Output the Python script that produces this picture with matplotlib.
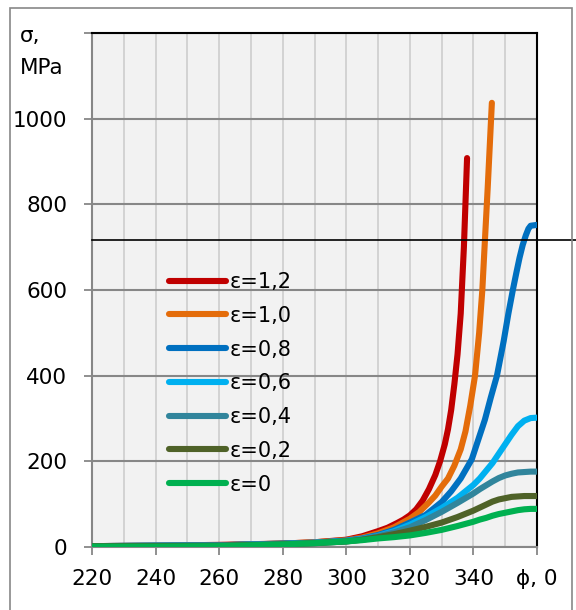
import matplotlib
matplotlib.use("Agg")
import matplotlib.pyplot as plt
from matplotlib.patches import Rectangle

plt.rcParams['font.family'] = ['DejaVu Sans']

# данные
labels = ["ε=1,2", "ε=1,0", "ε=0,8", "ε=0,6", "ε=0,4", "ε=0,2", "ε=0"]
colors = ["#C00000", "#E46C0A", "#0070C0", "#00B0F0", "#31859C", "#4F6228", "#00B050"]

phi_12 = [220, 240, 260, 280, 290, 300, 305, 310, 313, 316, 318, 320, 322, 324, 326, 328, 329.5, 331, 332, 333,
          334, 335, 336, 337, 338]
sig_12 = [2, 3, 5, 8, 11, 17, 25, 37, 45, 56, 64, 74, 88, 108, 135, 168, 200, 240, 275, 320,
          380, 450, 545, 700, 908]

phi_10 = [220, 240, 260, 280, 290, 300, 305, 310, 315, 320, 323, 326, 328, 330, 332, 334, 336, 337.5, 339,
          340.5, 341.8, 342.8, 343.5, 344.5, 345.8]
sig_10 = [2, 3, 4, 8, 11, 16, 22, 32, 46, 66, 82, 104, 120, 141, 160, 190, 228, 270, 330,
          400, 500, 600, 700, 840, 1037]

phi_08 = [220, 240, 260, 280, 290, 300, 305, 310, 315, 320, 325, 330, 333, 336, 339.5, 341.5, 343.6, 345.5,
          347.4, 349.5, 351, 352.4, 353.5, 354.5, 355.5, 356.5, 357.3, 358, 360]
sig_08 = [2, 3, 4, 8, 10, 15, 20, 28, 40, 57, 75, 105, 130, 160, 205, 250, 297, 350,
          400, 480, 545, 600, 640, 675, 705, 728, 743, 750, 752]

phi_06 = [220, 240, 260, 280, 290, 300, 305, 310, 315, 320, 325, 330, 335, 340, 342, 344, 346, 348, 350,
          352, 354, 356, 358, 360]
sig_06 = [2, 3, 4, 7, 10, 14, 19, 26, 37, 52, 70, 91, 115, 145, 160, 178, 196, 218, 240,
          262, 282, 295, 301, 302]

phi_04 = [220, 240, 260, 280, 290, 300, 305, 310, 315, 320, 325, 330, 335, 340, 342, 344, 346, 348, 350,
          352, 354, 356, 358, 360]
sig_04 = [2, 3, 4, 7, 9, 13, 18, 25, 34, 46, 63, 82, 103, 125, 135, 144, 153, 161, 167,
          171, 174, 175, 176, 176]

phi_02 = [220, 240, 260, 280, 290, 300, 305, 310, 315, 320, 325, 330, 335, 340, 342, 344, 346, 348, 350,
          352, 354, 356, 360]
sig_02 = [2, 2, 3, 6, 9, 13, 17, 23, 30, 38, 47, 57, 70, 85, 92, 99, 106, 111, 114,
          117, 118, 119, 119]

phi_00 = [220, 240, 260, 280, 290, 300, 305, 310, 315, 320, 325, 330, 335, 340, 342, 344, 346, 348, 350,
          352, 354, 356, 358, 360]
sig_00 = [1, 1, 2, 6, 9, 13, 16, 20, 23, 27, 33, 40, 49, 59, 64, 68, 73, 77, 80,
          83, 86, 88, 89, 89]

series = [(phi_12, sig_12), (phi_10, sig_10), (phi_08, sig_08), (phi_06, sig_06),
          (phi_04, sig_04), (phi_02, sig_02), (phi_00, sig_00)]

x_ticks = [220, 240, 260, 280, 300, 320, 340, 360]
x_ticklabels = ["220", "240", "260", "280", "300", "320", "340", "ϕ, 0"]
y_ticks = [0, 200, 400, 600, 800, 1000, 1200]
y_ticklabels = ["0", "200", "400", "600", "800", "1000", ""]
h_level = 716

fig = plt.figure(figsize=(5.76, 6.10), dpi=100)
ax = fig.add_axes([92 / 576, 63 / 610, 445 / 576, 514 / 610])
ax.set_facecolor("#F2F2F2")

for (px, sy), lab, c in zip(series, labels, colors):
    ax.plot(px, sy, color=c, lw=4.4, label=lab, solid_capstyle="round", solid_joinstyle="round", zorder=3)

ax.set_xlim(220, 360)
ax.set_ylim(0, 1200)
ax.set_xticks(x_ticks)
ax.set_xticklabels(x_ticklabels)
ax.set_xticks(range(230, 360, 20), minor=True)
ax.set_yticks(y_ticks)
ax.set_yticklabels(y_ticklabels)

ax.grid(which="both", axis="x", color="#D0D0D0", lw=1.3, zorder=0)
ax.grid(which="major", axis="y", color="#878787", lw=1.5, zorder=0)
ax.tick_params(axis="both", which="major", length=6, width=1.3, color="#878787",
               labelsize=15.5, direction="out")
ax.tick_params(axis="y", pad=12)
ax.tick_params(axis="x", pad=10)
ax.tick_params(which="minor", length=0)

for s in ["left", "bottom"]:
    ax.spines[s].set_color("#878787")
    ax.spines[s].set_linewidth(1.5)
for s in ["top", "right"]:
    ax.spines[s].set_color("black")
    ax.spines[s].set_linewidth(1.5)

# горизонтальная линия
ax.axhline(h_level, xmin=0, xmax=1.09, color="black", lw=1.2, clip_on=False, zorder=4)

leg = ax.legend(loc="upper left", bbox_to_anchor=(0.172, 0.535), frameon=False,
                fontsize=15, handlelength=2.75, handletextpad=0.2, labelspacing=0.66,
                borderpad=0, borderaxespad=0)

fig.text(20 / 576, 1 - 36 / 610, "σ,", fontsize=15.5, va="center", ha="left")
fig.text(20 / 576, 1 - 68 / 610, "MPa", fontsize=15.5, va="center", ha="left")

# рамка вокруг всей диаграммы
fig.patches.append(Rectangle((10 / 576, -0.05), 562 / 576, 1.05 - 8 / 610,
                             transform=fig.transFigure, fill=False, edgecolor="#878787", lw=1.2))

plt.savefig("out.png", dpi=100)
